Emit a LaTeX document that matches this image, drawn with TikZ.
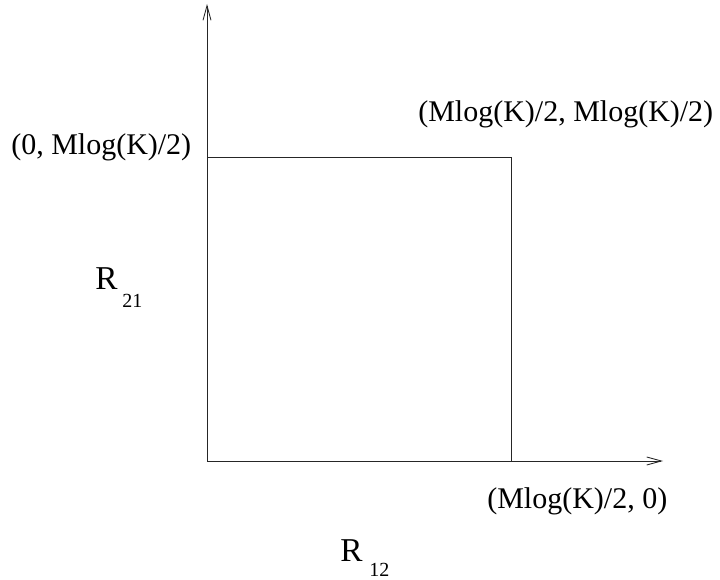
\documentclass[tikz,border=0pt]{standalone}
\usepackage{fontspec}
\setmainfont{Liberation Serif}
\usetikzlibrary{arrows.meta}
\begin{document}
\begin{tikzpicture}[x=0.75pt,y=-0.75pt,
  axis/.style={line width=0.65pt,draw=black!85,-{Straight Barb[length=11pt,width=6pt,line width=0.65pt]}},
  box/.style={line width=0.65pt,draw=black!85},
  lbl/.style={inner sep=0pt,anchor=base west,font=\fontsize{22.5}{26}\selectfont},
  rlbl/.style={inner sep=0pt,anchor=base west,font=\fontsize{25}{30}\selectfont},
  sublbl/.style={inner sep=0pt,anchor=base west,font=\fontsize{15}{18}\selectfont}]
\useasboundingbox (0,0) rectangle (720,580);
\coordinate (o) at (207,461);
\coordinate (ytip) at (207,4);
\coordinate (xtip) at (663,461);
\coordinate (tl) at (207,157);
\coordinate (tr) at (511,157);
\coordinate (br) at (511,461);
\draw[axis] (o) -- (ytip);
\draw[axis] (o) -- (xtip);
\draw[box] (tl) -- (tr) -- (br);
\node[lbl] (l1) at (11,155) {(0, Mlog(K)/2)};
\node[lbl] (l2) at (418,122) {(Mlog(K)/2, Mlog(K)/2)};
\node[lbl] (l3) at (487,508) {(Mlog(K)/2, 0)};
\node[rlbl] (r21) at (95,290) {R};
\node[sublbl] (r21s) at (122,308) {21};
\node[rlbl] (r12) at (340,561) {R};
\node[sublbl] (r12s) at (369,576) {12};
\end{tikzpicture}
\end{document}
